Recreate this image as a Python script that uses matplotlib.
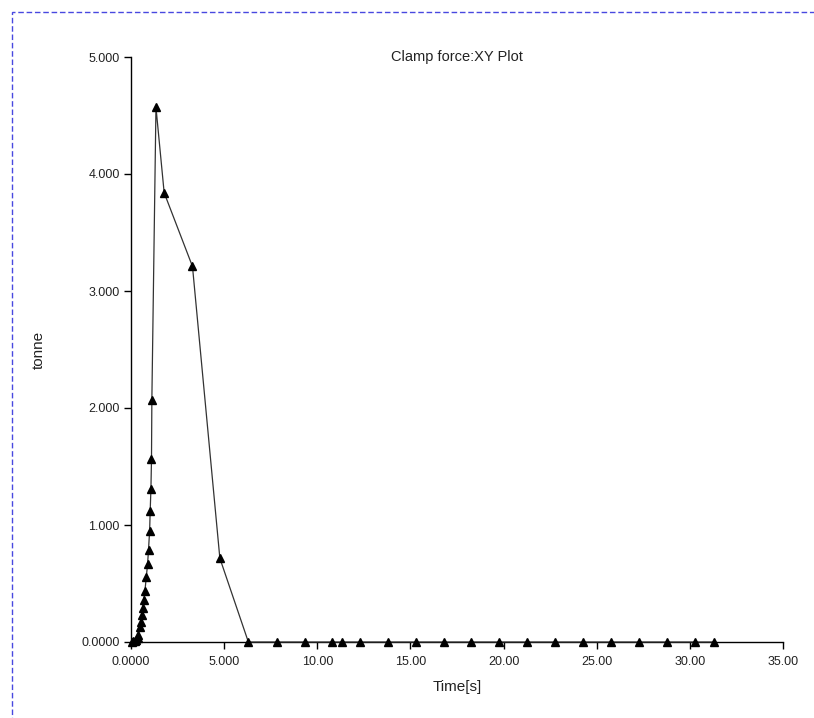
import matplotlib
matplotlib.use("Agg")
import matplotlib.pyplot as plt
from matplotlib.patches import Rectangle

plt.rcParams['font.family'] = ['Liberation Sans', 'DejaVu Sans']

time_s = [0.05, 0.12, 0.2, 0.28, 0.35, 0.40,
          0.46, 0.51, 0.57, 0.62, 0.68, 0.75, 0.82, 0.89, 0.94, 1.00, 1.03, 1.07, 1.10, 1.12,
          1.34, 1.78, 3.30, 4.77, 6.30, 7.82, 9.32, 10.77, 11.32, 12.29, 13.79, 15.28,
          16.79, 18.26, 19.74, 21.27, 22.75, 24.25, 25.76, 27.29, 28.77, 30.25, 31.27]
force_t = [0.0, 0.005, 0.01, 0.02, 0.03, 0.06,
           0.13, 0.17, 0.23, 0.29, 0.36, 0.44, 0.555, 0.665, 0.79, 0.95, 1.12, 1.31, 1.56, 2.07,
           4.57, 3.84, 3.21, 0.716, 0.0, 0.0, 0.0, 0.0, 0.0, 0.0, 0.0, 0.0,
           0.0, 0.0, 0.0, 0.0, 0.0, 0.0, 0.0, 0.0, 0.0, 0.0, 0.0]

x_ticks = [0, 5, 10, 15, 20, 25, 30, 35]
x_tick_labels = ["0.0000", "5.000", "10.00", "15.00", "20.00", "25.00", "30.00", "35.00"]
y_ticks = [0, 1, 2, 3, 4, 5]
y_tick_labels = ["0.0000", "1.000", "2.000", "3.000", "4.000", "5.000"]

W, H = 814, 718
fig = plt.figure(figsize=(W / 100, H / 100), dpi=100)
ax = fig.add_axes([131 / W, (H - 642) / H, (783 - 131) / W, (642 - 57) / H])

ax.plot(time_s, force_t, color='#333333', lw=0.9, marker='^', markersize=6,
        markerfacecolor='black', markeredgecolor='black', clip_on=False, zorder=3)

ax.set_xlim(0, 35)
ax.set_ylim(0, 5)
ax.set_xticks(x_ticks)
ax.set_xticklabels(x_tick_labels)
ax.set_yticks(y_ticks)
ax.set_yticklabels(y_tick_labels)
ax.spines['top'].set_visible(False)
ax.spines['right'].set_visible(False)
for s in ('left', 'bottom'):
    ax.spines[s].set_linewidth(1.0)
    ax.spines[s].set_color('black')
ax.tick_params(axis='both', direction='out', length=5, width=1, labelsize=9,
               colors='black', labelcolor='#222222')
ax.tick_params(axis='x', pad=5)
ax.tick_params(axis='y', pad=3)

ax.text(0.5, 1.0, "Clamp force:XY Plot", transform=ax.transAxes, ha='center',
        va='center', fontsize=10.5, color='#222222')
ax.set_xlabel("Time[s]", fontsize=11, labelpad=9, color='#222222')
ax.set_ylabel("tonne", fontsize=11, labelpad=26, color='#222222')

border = Rectangle((12 / W, -0.05), 1.2, (H - 12) / H + 0.05, transform=fig.transFigure,
                   fill=False, edgecolor='#4848e0', lw=1, linestyle=(0, (4, 2)))
fig.patches.append(border)

fig.savefig("out.png", dpi=100)
